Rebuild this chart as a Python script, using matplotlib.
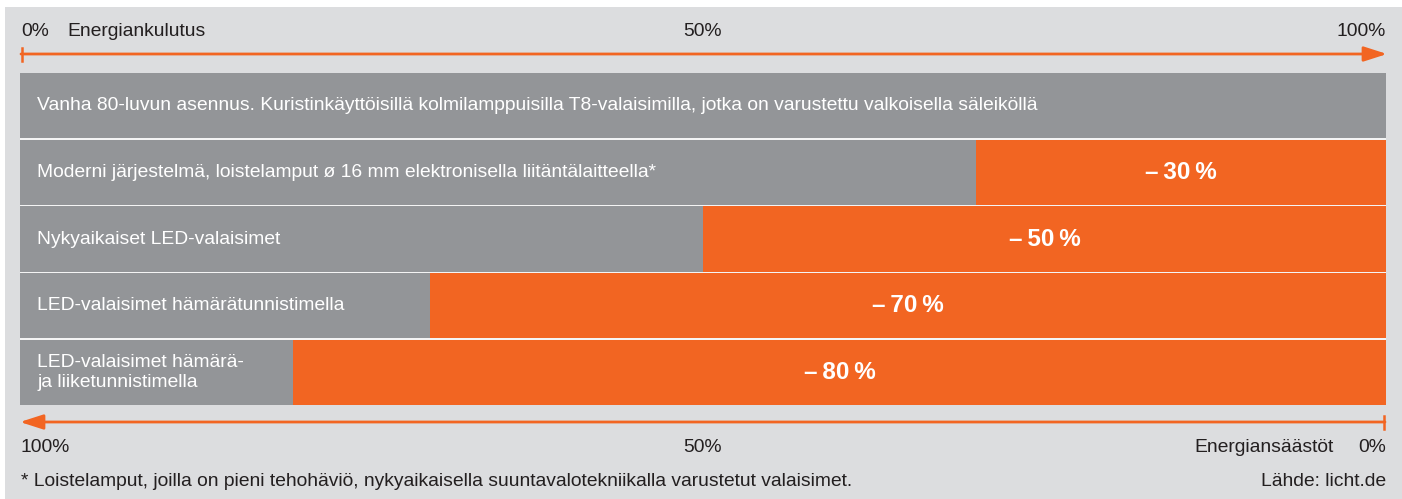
import matplotlib
matplotlib.use("Agg")
import matplotlib.pyplot as plt
from matplotlib.patches import Rectangle
from matplotlib.lines import Line2D

# ---- data ----
categories = [
    "Vanha 80-luvun asennus. Kuristinkäyttöisillä kolmilamppuisilla T8-valaisimilla, jotka on varustettu valkoisella säleiköllä",
    "Moderni järjestelmä, loistelamput ø 16 mm elektronisella liitäntälaitteella*",
    "Nykyaikaiset LED-valaisimet",
    "LED-valaisimet hämärätunnistimella",
    "LED-valaisimet hämärä-\nja liiketunnistimella",
]
consumption = [100, 70, 50, 30, 20]
savings = [0, 30, 50, 70, 80]
savings_labels = ["", "\u2013\u200930\u2009%", "\u2013\u200950\u2009%",
                  "\u2013\u200970\u2009%", "\u2013\u200980\u2009%"]
top_ticks = ["0%", "50%", "100%"]
bottom_ticks = ["100%", "50%", "0%"]
top_title = "Energiankulutus"
bottom_title = "Energiansäästöt"
footnote = "* Loistelamput, joilla on pieni tehohäviö, nykyaikaisella suuntavalotekniikalla varustetut valaisimet."
source = "Lähde: licht.de"

# ---- style ----
W, H = 1402, 499
BG = "#dcdddf"
GRAY = "#939598"
ORANGE = "#f26522"
TXT = "#231f20"
plt.rcParams["font.family"] = ["Liberation Sans", "DejaVu Sans"]

fig = plt.figure(figsize=(W / 100, H / 100), dpi=100)
fig.patch.set_facecolor("white")


def fx(px):
    return px / W


def fy(py):
    return 1 - py / H


fig.add_artist(Rectangle((fx(5), 0), 1 - fx(5), fy(7), transform=fig.transFigure,
                         facecolor=BG, edgecolor="none", zorder=0))

x0, x1 = 20, 1386
y0, y1 = 73, 405
ax = fig.add_axes([fx(x0), fy(y1), fx(x1 - x0), (y1 - y0) / H])
ax.set_facecolor("#f4f4f4")
gap = 0.025
n = len(categories)
ypos = list(range(n))
ax.barh(ypos, consumption, height=1 - gap, color=GRAY, edgecolor="none")
ax.barh(ypos, savings, left=consumption, height=1 - gap, color=ORANGE, edgecolor="none")
ax.set_xlim(0, 100)
ax.set_ylim(n - 0.5 - gap / 2, -0.5 + gap / 2)
for s in ax.spines.values():
    s.set_visible(False)
ax.set_xticks([])
ax.set_yticks([])

fs = 13.9
for i, (cat, c, s, lab) in enumerate(zip(categories, consumption, savings, savings_labels)):
    ax.text(1.25, i, cat, color="white", fontsize=fs, va="center", ha="left",
            linespacing=1.2)
    if s > 0:
        ax.text(c + s / 2, i, lab, color="white", fontsize=17.5, fontweight="bold",
                va="center", ha="center")

# ---- top scale ----
ty = fy(31)
fig.text(fx(21), ty, top_ticks[0], fontsize=fs, color=TXT, va="center", ha="left")
fig.text(fx(67), ty, top_title, fontsize=fs, color=TXT, va="center", ha="left")
fig.text(fx(703), ty, top_ticks[1], fontsize=fs, color=TXT, va="center", ha="center")
fig.text(fx(1386), ty, top_ticks[2], fontsize=fs, color=TXT, va="center", ha="right")

ay = fy(54)
fig.add_artist(Line2D([fx(22), fx(22)], [fy(48), fy(61)], color=ORANGE, lw=1.8,
                      transform=fig.transFigure))
ax.annotate("", xy=(fx(1387), ay), xytext=(fx(21), ay), xycoords="figure fraction",
            textcoords="figure fraction",
            arrowprops=dict(arrowstyle="-|>,head_length=1.4,head_width=0.45",
                            color=ORANGE, lw=2, shrinkA=0, shrinkB=0))

# ---- bottom scale ----
by = fy(422)
fig.add_artist(Line2D([fx(1384), fx(1384)], [fy(416), fy(429)], color=ORANGE, lw=1.8,
                      transform=fig.transFigure))
ax.annotate("", xy=(fx(20), by), xytext=(fx(1385), by), xycoords="figure fraction",
            textcoords="figure fraction",
            arrowprops=dict(arrowstyle="-|>,head_length=1.4,head_width=0.45",
                            color=ORANGE, lw=2, shrinkA=0, shrinkB=0))

ly = fy(448)
fig.text(fx(21), ly, bottom_ticks[0], fontsize=fs, color=TXT, va="center", ha="left")
fig.text(fx(703), ly, bottom_ticks[1], fontsize=fs, color=TXT, va="center", ha="center")
fig.text(fx(1334), ly, bottom_title, fontsize=fs, color=TXT, va="center", ha="right")
fig.text(fx(1386), ly, bottom_ticks[2], fontsize=fs, color=TXT, va="center", ha="right")

fy2 = fy(481)
fig.text(fx(21), fy2, footnote, fontsize=fs, color=TXT, va="center", ha="left")
fig.text(fx(1386), fy2, source, fontsize=fs, color=TXT, va="center", ha="right")

fig.savefig("out.png", dpi=100, facecolor=fig.get_facecolor())
